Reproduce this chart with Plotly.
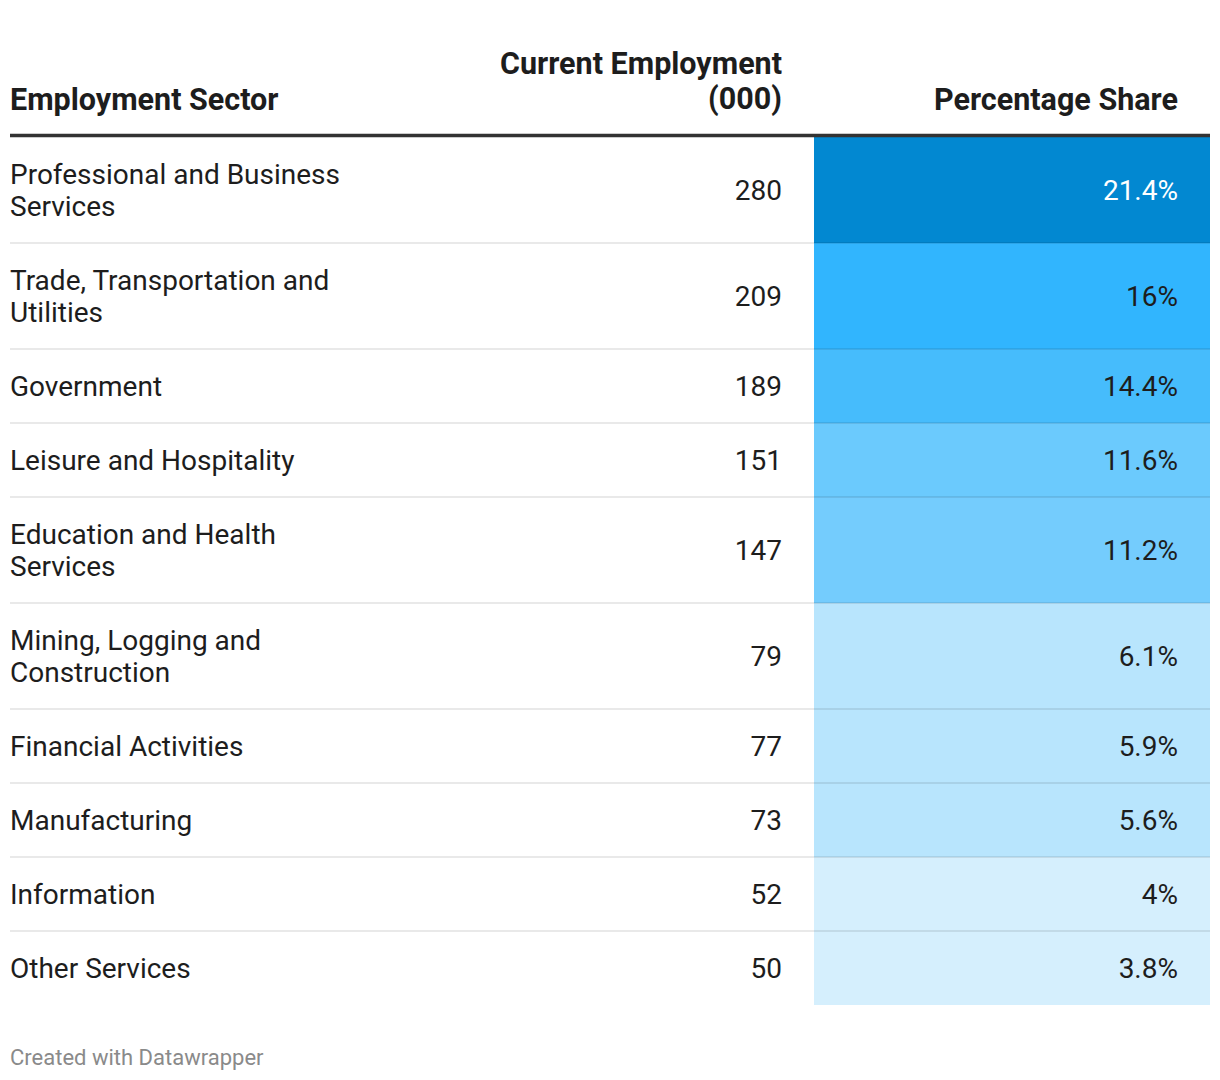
import plotly.graph_objects as go

# ---------------- data ----------------
sectors = [
    "Professional and Business<br>Services",
    "Trade, Transportation and<br>Utilities",
    "Government",
    "Leisure and Hospitality",
    "Education and Health<br>Services",
    "Mining, Logging and<br>Construction",
    "Financial Activities",
    "Manufacturing",
    "Information",
    "Other Services",
]
employment = [280, 209, 189, 151, 147, 79, 77, 73, 52, 50]
share = [21.4, 16, 14.4, 11.6, 11.2, 6.1, 5.9, 5.6, 4, 3.8]
headers = ["Employment Sector", "Current Employment<br>(000)", "Percentage Share"]
footer = "Created with Datawrapper"

# ---------------- style ----------------
W, H = 1220, 1080
OFF = 8              # page body margin
FONT = "Roboto"
BODY_SIZE = 28
HEAD_SIZE = 30.5
LINE = 32            # line spacing inside a cell
ROW_PAD = 42         # row height = ROW_PAD + LINE * lines
TEXT_DY = 3          # optical baseline correction for body text
TABLE_TOP = 137
LEFT, RIGHT = 10, 1210
COL2_RIGHT = 782
COL3_LEFT, COL3_TEXT_RIGHT = 814, 1178
TEXT = "#1d1d1d"
SEP = "rgba(0,0,0,0.085)"
color_steps = [(20, "#0288d1", "white"), (15, "#31b5fe", TEXT), (12, "#46bcfc", TEXT),
               (11.4, "#6bcafd", TEXT), (10, "#74ccfd", TEXT), (5, "#b8e5fd", TEXT),
               (0, "#d5effd", TEXT)]


def shade(v):
    for th, c, t in color_steps:
        if v >= th:
            return c, t
    return color_steps[-1][1], color_steps[-1][2]


# row geometry derived from the label line counts
lines = [s.split("<br>") for s in sectors]
heights = [ROW_PAD + LINE * len(l) for l in lines]
tops = []
y = TABLE_TOP
for h in heights:
    tops.append(y)
    y += h
centers = [t + h / 2 for t, h in zip(tops, heights)]
bottom = y

fig = go.Figure()

# coloured share column
fig.add_trace(go.Bar(
    orientation="h", y=centers, x=[RIGHT - COL3_LEFT] * len(share), base=COL3_LEFT,
    width=heights, marker=dict(color=[shade(v)[0] for v in share], line=dict(width=0)),
    hoverinfo="skip", showlegend=False,
))

# row separators
sx, sy = [], []
for t in tops[1:]:
    sx += [LEFT, RIGHT, None]
    sy += [t, t, None]
fig.add_trace(go.Scatter(x=sx, y=sy, mode="lines", line=dict(color=SEP, width=2),
                         hoverinfo="skip", showlegend=False))

# sector labels (one point per text line)
lx, ly, lt = [], [], []
for c, ls in zip(centers, lines):
    n = len(ls)
    for i, s in enumerate(ls):
        lx.append(LEFT)
        ly.append(c + TEXT_DY + (i - (n - 1) / 2) * LINE)
        lt.append(s)
fig.add_trace(go.Scatter(x=lx, y=ly, text=lt, mode="text", textposition="middle right",
                         textfont=dict(family=FONT, size=BODY_SIZE, color=TEXT),
                         hoverinfo="skip", showlegend=False))

# employment numbers
fig.add_trace(go.Scatter(x=[COL2_RIGHT] * len(employment), y=[c + TEXT_DY for c in centers],
                         text=[str(v) for v in employment], mode="text",
                         textposition="middle left",
                         textfont=dict(family=FONT, size=BODY_SIZE, color=TEXT),
                         hoverinfo="skip", showlegend=False))

# share values
fig.add_trace(go.Scatter(x=[COL3_TEXT_RIGHT] * len(share), y=[c + TEXT_DY for c in centers],
                         text=[f"{v:g}%" for v in share], mode="text",
                         textposition="middle left",
                         textfont=dict(family=FONT, size=BODY_SIZE,
                                       color=[shade(v)[1] for v in share]),
                         hoverinfo="skip", showlegend=False))

# header rule
fig.add_trace(go.Scatter(x=[LEFT, RIGHT], y=[TABLE_TOP - 1.5, TABLE_TOP - 1.5], mode="lines",
                         line=dict(color="#333333", width=3.5), hoverinfo="skip",
                         showlegend=False))

# headers
head_x = [(LEFT, "left", -2), (COL2_RIGHT, "right", 2), (COL3_TEXT_RIGHT, "right", 2)]
HEAD_BASE = 99
HEAD_LINE = 36
for (hx, al, xs), htxt in zip(head_x, headers):
    parts = htxt.split("<br>")
    n = len(parts)
    for i, p in enumerate(parts):
        fig.add_annotation(x=hx, y=HEAD_BASE - (n - 1 - i) * HEAD_LINE, xref="x", yref="y",
                           text=f"<b>{p}</b>", showarrow=False, xanchor=al, yanchor="middle",
                           xshift=xs, font=dict(family=FONT, size=HEAD_SIZE, color=TEXT))

fig.add_annotation(x=LEFT, y=1057, xref="x", yref="y", text=footer, showarrow=False,
                   xanchor="left", yanchor="middle", xshift=-2,
                   font=dict(family=FONT, size=22, color="#8a8a8a"))

fig.update_layout(
    width=W - OFF, height=H - OFF, margin=dict(l=0, r=0, t=0, b=0),
    paper_bgcolor="white", plot_bgcolor="white", bargap=0,
    xaxis=dict(range=[OFF, W], visible=False, fixedrange=True),
    yaxis=dict(range=[H, OFF], visible=False, fixedrange=True),
)

fig.write_html("out.html")
